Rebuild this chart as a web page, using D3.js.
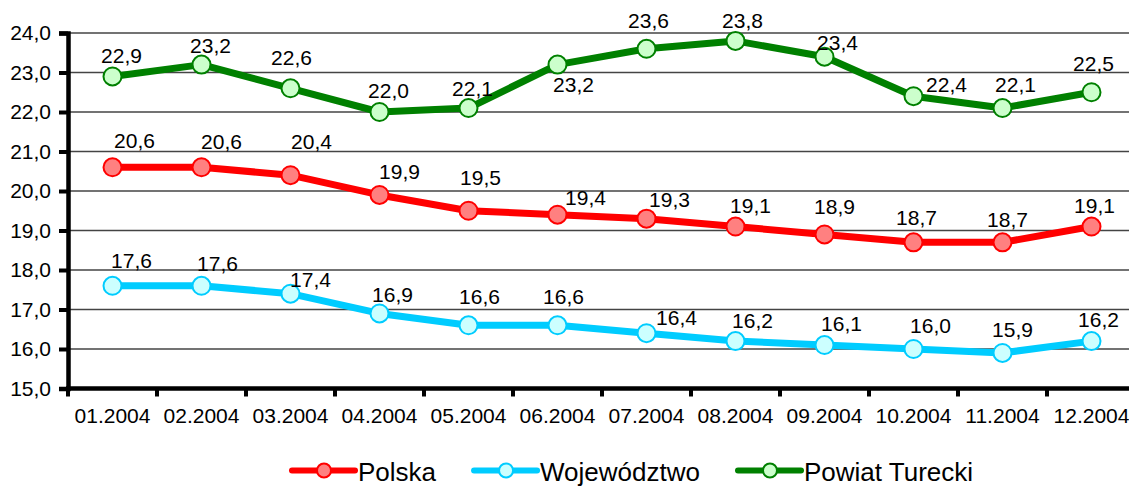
<!DOCTYPE html>
<html>
<head>
<meta charset="utf-8">
<script src="https://cdn.jsdelivr.net/npm/d3@7"></script>
<style>
  body { margin: 0; background: #fff; }
  text { font-family: "Liberation Sans", Arial, sans-serif; fill: #000; }
</style>
</head>
<body>
<div id="chart"></div>
<script>
// data
var months = ["01.2004","02.2004","03.2004","04.2004","05.2004","06.2004",
              "07.2004","08.2004","09.2004","10.2004","11.2004","12.2004"];
var yTicks = [15,16,17,18,19,20,21,22,23,24];
var polska = [20.6,20.6,20.4,19.9,19.5,19.4,19.3,19.1,18.9,18.7,18.7,19.1];
var wojewodztwo = [17.6,17.6,17.4,16.9,16.6,16.6,16.4,16.2,16.1,16.0,15.9,16.2];
var powiat = [22.9,23.2,22.6,22.0,22.1,23.2,23.6,23.8,23.4,22.4,22.1,22.5];
var seriesNames = ["Polska","Województwo","Powiat Turecki"];

// label nudges (dx, dy from the marker) - placed by hand in the original
var polskaShift = [[22,-19],[20,-18],[21,-26],[20,-16],[12,-26],[28,-10],[23,-12],[15,-14],[10,-20],[3,-17],[5,-15],[3,-14]];
var wojShift = [[19,-18],[16,-15],[20,-7],[13,-11],[11,-21],[6,-21],[30,-8],[17,-13],[17,-14],[17,-16],[10,-16],[7,-14]];
var powiatShift = [[9,-13],[9,-12],[1,-23],[9,-14],[4,-12],[16,27],[2,-21],[7,-13],[13,-7],[33,-4],[13,-16],[2,-21]];

var W = 1129, H = 486;
var fmt = function(v) { return d3.format(".1f")(v).replace(".", ","); };

var series = [
  {name: seriesNames[0], values: polska, shift: polskaShift, line: "#ff0000", fill: "#ff8080"},
  {name: seriesNames[1], values: wojewodztwo, shift: wojShift, line: "#00ccff", fill: "#ccffff"},
  {name: seriesNames[2], values: powiat, shift: powiatShift, line: "#008000", fill: "#ccffcc"}
];

var svg = d3.select("#chart").append("svg")
  .attr("width", W)
  .attr("height", H);

var x = d3.scaleBand()
  .domain(months)
  .range([68, 68 + 12 * 89]);
var y = d3.scaleLinear()
  .domain([15, 24])
  .range([388.5, 33]);
var cx = function(i) { return x(months[i]) + x.bandwidth() / 2; };

// horizontal grid
svg.append("g").selectAll("line")
  .data(yTicks.filter(function(t) { return t > 15; }))
  .enter().append("line")
    .attr("x1", 68).attr("x2", x.range()[1])
    .attr("y1", function(d) { return y(d); })
    .attr("y2", function(d) { return y(d); })
    .attr("stroke", "#444")
    .attr("stroke-width", 1.3);

// y axis
var yAxis = svg.append("g")
  .attr("transform", "translate(68,0)")
  .call(d3.axisLeft(y).tickValues(yTicks).tickSize(9).tickPadding(8).tickFormat(fmt));
yAxis.select(".domain").attr("stroke", "#000").attr("stroke-width", 4.5);
yAxis.selectAll(".tick line").attr("stroke", "#000").attr("stroke-width", 4);
yAxis.selectAll("text").style("font-size", "21px");

// x axis - ticks on band boundaries
var xAxis = svg.append("g")
  .attr("transform", "translate(0," + y(15) + ")");
xAxis.append("line")
  .attr("x1", 66).attr("x2", x.range()[1])
  .attr("stroke", "#000").attr("stroke-width", 4.5);
xAxis.selectAll(".tk")
  .data(months)
  .enter().append("line")
    .attr("class", "tk")
    .attr("x1", function(d) { return x(d); })
    .attr("x2", function(d) { return x(d); })
    .attr("y1", 0).attr("y2", 8)
    .attr("stroke", "#000").attr("stroke-width", 4);
xAxis.selectAll("text")
  .data(months)
  .enter().append("text")
    .attr("x", function(d, i) { return cx(i); })
    .attr("y", 34)
    .attr("text-anchor", "middle")
    .style("font-size", "21px")
    .text(function(d) { return d; });

// lines, markers, labels
var line = d3.line()
  .x(function(d, i) { return cx(i); })
  .y(function(d) { return y(d); });

series.forEach(function(s) {
  var g = svg.append("g");
  g.append("path")
    .attr("d", line(s.values))
    .attr("fill", "none")
    .attr("stroke", s.line)
    .attr("stroke-width", 7)
    .attr("stroke-linejoin", "round");
  g.selectAll("circle")
    .data(s.values)
    .enter().append("circle")
      .attr("cx", function(d, i) { return cx(i); })
      .attr("cy", function(d) { return y(d); })
      .attr("r", 9)
      .attr("fill", s.fill)
      .attr("stroke", s.line)
      .attr("stroke-width", 2);
  g.selectAll("text")
    .data(s.values)
    .enter().append("text")
      .attr("x", function(d, i) { return cx(i) + s.shift[i][0]; })
      .attr("y", function(d, i) { return y(d) + s.shift[i][1]; })
      .attr("text-anchor", "middle")
      .style("font-size", "21px")
      .text(function(d) { return fmt(d); });
});

// legend (bottom is clipped in the original too)
var lx = 292, ly = 470.5;
series.forEach(function(s) {
  var g = svg.append("g");
  g.append("line")
    .attr("x1", lx).attr("x2", lx + 63)
    .attr("y1", ly).attr("y2", ly)
    .attr("stroke", s.line).attr("stroke-width", 6)
    .attr("stroke-linecap", "round");
  g.append("circle")
    .attr("cx", lx + 32).attr("cy", ly).attr("r", 7)
    .attr("fill", s.fill).attr("stroke", s.line).attr("stroke-width", 2);
  var t = g.append("text")
    .attr("x", lx + 66).attr("y", ly + 10)
    .style("font-size", "26px")
    .text(s.name);
  lx = lx + 66 + t.node().getComputedTextLength() + 38;
});
</script>
</body>
</html>
